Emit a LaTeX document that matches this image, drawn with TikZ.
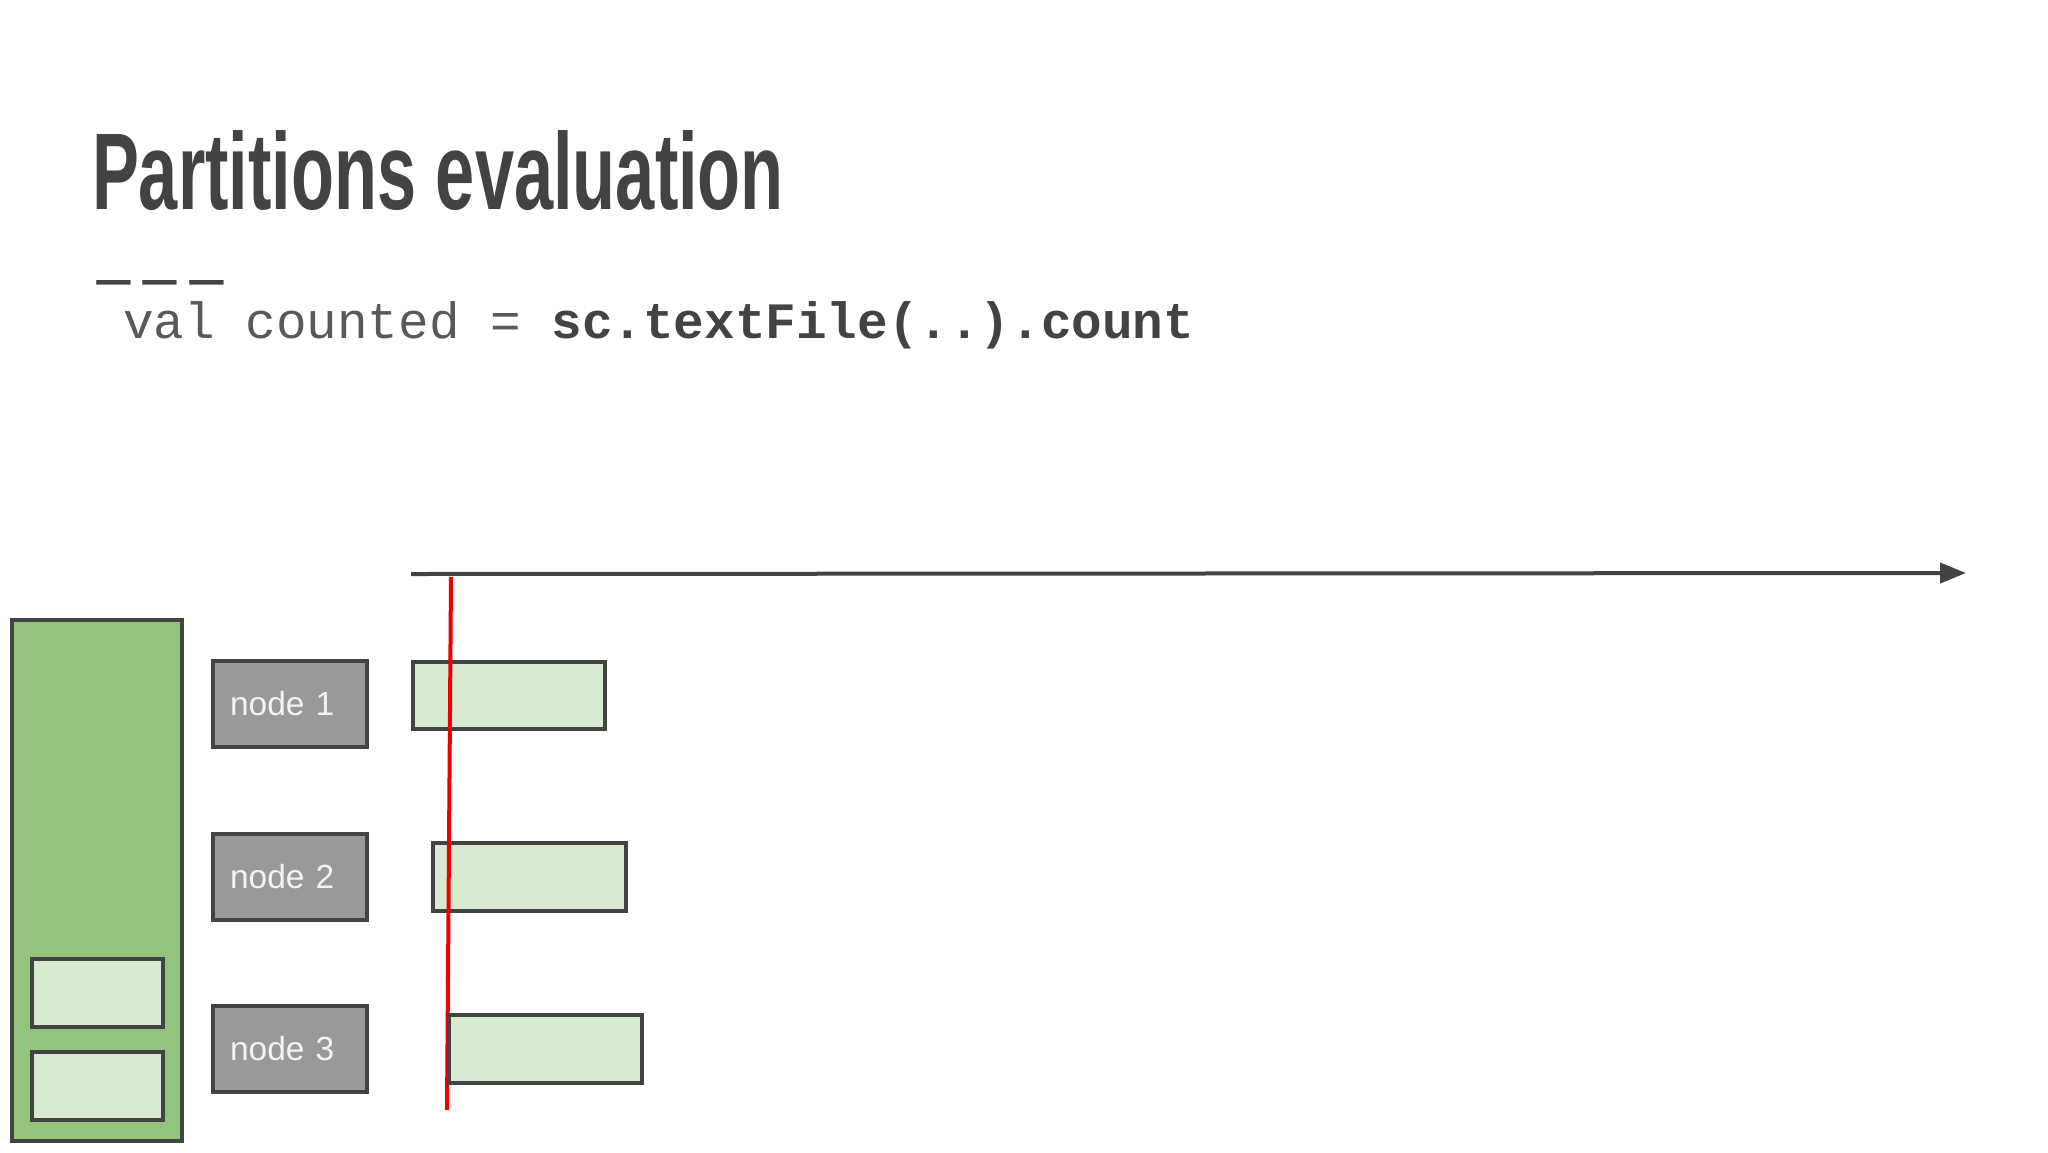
\documentclass[tikz,border=0pt]{standalone}
\usepackage{fontspec}
\setmainfont{Liberation Sans}
\newfontfamily\codefont{Liberation Mono}
\usetikzlibrary{arrows.meta}
\definecolor{ink}{HTML}{434343}
\definecolor{codegray}{HTML}{595959}
\definecolor{darkgreen}{HTML}{93C47D}
\definecolor{lightgreen}{HTML}{D9EAD3}
\definecolor{nodegray}{HTML}{999999}
\definecolor{nodetext}{HTML}{F3F3F3}
\definecolor{redline}{HTML}{EE0000}
\begin{document}
\begin{tikzpicture}[x=1pt,y=-1pt,
  box/.style={draw=ink, line width=4.3pt, inner sep=0pt, outer sep=0pt},
  machine/.style={box, fill=darkgreen, minimum width=170pt, minimum height=521pt},
  part/.style={box, fill=lightgreen, minimum height=68pt},
  workerbox/.style={box, fill=nodegray, text=nodetext, minimum height=86pt,
    inner xsep=17pt, text width=120pt, align=left,
    font=\fontsize{33.5pt}{33.5pt}\selectfont},
  plain/.style={inner sep=0pt, outer sep=0pt, anchor=base west}]
\useasboundingbox (0,0) rectangle (2048,1152);
\fill[white] (0,0) rectangle (2048,1152);

% title and code
\node[plain, text=ink] (title) at (92,209)
  {\resizebox{692pt}{\height}{\fontsize{109pt}{109pt}\selectfont\bfseries Partitions evaluation}};
\node[plain, text=ink] (sep) at (90,298)
  {\scalebox{1}[0.42]{\fontsize{140.5pt}{140.5pt}\selectfont -{}-{}-}};
\node[plain, font=\codefont\fontsize{51pt}{51pt}\selectfont] (code) at (123,338)
  {{\color{codegray}val counted = }{\color{ink}\bfseries sc.textFile(..).count}};

% data source
\node[machine] (src) at (97,880.5) {};
\node[part, minimum width=131pt] (s1) at (97.5,993) {};
\node[part, minimum width=131pt] (s2) at (97.5,1086) {};

% worker nodes
\node[workerbox] (n1) at (290,704) {node 1};
\node[workerbox] (n2) at (290,877) {node 2};
\node[workerbox] (n3) at (290,1049) {node 3};

% time axis
\coordinate (tstart) at (411,574);
\coordinate (tend) at (1966,573);
\draw[ink, line width=4pt, -{Triangle[length=26pt,width=20pt]}] (tstart) -- (tend);

% partitions
\node[part, minimum width=192pt, minimum height=67pt] (p1) at (509,695.5) {};
\node[part, minimum width=193pt] (p2) at (529.5,877) {};

% current time marker
\coordinate (rtop) at (451,577);
\coordinate (rbot) at (447,1110);
\draw[redline, line width=4pt] (rtop) -- (rbot);

\node[part, minimum width=193pt] (p3) at (545.5,1049) {};
\end{tikzpicture}
\end{document}
